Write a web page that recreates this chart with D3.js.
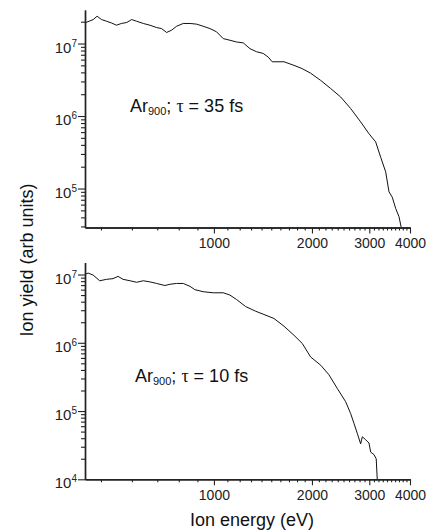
<!DOCTYPE html>
<html>
<head>
<meta charset="utf-8">
<script src="https://cdn.jsdelivr.net/npm/d3@7"></script>
<style>
    body { margin: 0; background: #fff; }
    svg { display: block; }
</style>
</head>
<body>
<svg class="ionYield"></svg>
<script>
// tau = 35 fs (top panel)
const energy_35fs = [401, 416, 426, 438, 452, 468, 485, 502, 520, 540, 559, 579, 607, 636, 667, 690, 716, 742, 768, 805,
    845, 885, 927, 972, 1019, 1068, 1120, 1174, 1231, 1290, 1352, 1417, 1468, 1510, 1641, 1761, 1867, 1981, 2127, 2282,
    2450, 2629, 2822, 2993, 3138, 3251, 3368, 3448, 3529, 3615, 3700, 3760];
const yield_35fs = [1.92e7, 2.05e7, 2.14e7, 2.38e7, 2.14e7, 2.03e7, 1.92e7, 1.79e7, 1.89e7, 1.95e7, 2.14e7, 2.03e7, 1.89e7, 1.79e7, 1.66e7, 1.61e7, 1.42e7, 1.53e7, 1.73e7, 1.89e7,
    1.89e7, 1.85e7, 1.73e7, 1.61e7, 1.45e7, 1.17e7, 1.11e7, 1.05e7, 1.02e7, 8.5e6, 7.7e6, 7.3e6, 6.5e6, 5.6e6, 5.6e6, 5.0e6, 4.5e6, 3.9e6, 3.1e6, 2.4e6,
    1.83e6, 1.27e6, 8.3e5, 5.7e5, 4.4e5, 2.7e5, 1.7e5, 9.0e4, 7.6e4, 5.3e4, 4.1e4, 2.9e4];

// tau = 10 fs (bottom panel)
const energy_10fs = [401, 411, 426, 446, 468, 490, 508, 526, 553, 579, 607, 636, 667, 707, 733, 768, 805, 845, 874, 927,
    995, 1068, 1120, 1174, 1251, 1343, 1424, 1529, 1641, 1761, 1867, 1981, 2127, 2255, 2391, 2538, 2629, 2692, 2756, 2822,
    2855, 2923, 2993, 3030, 3100, 3150, 3173];
const yield_10fs = [1.0e7, 1.05e7, 9.8e6, 8.1e6, 8.5e6, 8.7e6, 9.4e6, 8.5e6, 8.1e6, 7.7e6, 8.1e6, 7.8e6, 7.4e6, 6.9e6, 7.2e6, 7.4e6, 7.4e6, 6.7e6, 6.0e6, 5.6e6,
    5.4e6, 5.4e6, 5.0e6, 4.3e6, 3.4e6, 2.9e6, 2.6e6, 2.27e6, 1.75e6, 1.29e6, 9.8e5, 6.2e5, 4.7e5, 3.4e5, 2.15e5, 1.37e5, 9.2e4, 6.6e4, 4.7e4, 3.3e4,
    4.2e4, 3.8e4, 3.4e4, 2.5e4, 2.3e4, 2.0e4, 1.0e4];

const xMajorTicks = [1000, 2000, 3000, 4000];
const xMinorTicks = [450, 560, 670, 780, 890,
    1100, 1200, 1300, 1400, 1500, 1600, 1700, 1800, 1900,
    2100, 2200, 2300, 2400, 2500, 2600, 2700, 2800, 2900,
    3100, 3200, 3300, 3400, 3500, 3600, 3700, 3800, 3900];
const yDecades_35fs = [1e5, 1e6, 1e7];
const yDecades_10fs = [1e4, 1e5, 1e6, 1e7];

const FONT = "'Liberation Sans', Arial, sans-serif";

function drawPanel(svg, cfg){
    const x = d3.scaleLog()
        .domain([402, 4000])
        .range([85, 410]);

    const y = d3.scaleLog()
        .domain(cfg.yDomain)
        .range([cfg.bottom, cfg.top]);

    const g = svg.append("g");

    g.append("clipPath")
        .attr("id", cfg.id)
        .append("rect")
        .attr("x", 85)
        .attr("y", cfg.top)
        .attr("width", 330)
        .attr("height", cfg.bottom - cfg.top);

    // curve
    const pts = cfg.energy.map((e, i) => [e, cfg.values[i]]);
    g.append("path")
        .datum(pts)
        .attr("clip-path", `url(#${cfg.id})`)
        .attr("fill", "none")
        .attr("stroke", "#111")
        .attr("stroke-width", 1)
        .attr("d", d3.line().x(d => x(d[0])).y(d => y(d[1])));

    // X axis
    g.append("g")
        .attr("transform", `translate(0,${cfg.bottom})`)
        .call(d3.axisBottom(x).tickValues(xMinorTicks).tickSize(3).tickSizeOuter(0).tickFormat(""));

    g.append("g")
        .attr("transform", `translate(0,${cfg.bottom})`)
        .call(d3.axisBottom(x).tickValues(xMajorTicks).tickSize(6).tickSizeOuter(0).tickFormat(d3.format("d")))
        .call(a => a.selectAll(".tick text")
            .attr("y", 11)
            .style("font-size", "14px")
            .style("font-family", FONT)
            .style("fill", "#222"));

    // Y axis
    const minor = y.ticks().filter(v => Math.abs(Math.log10(v) - Math.round(Math.log10(v))) > 1e-6);
    g.append("g")
        .attr("transform", "translate(85,0)")
        .call(d3.axisLeft(y).tickValues(minor).tickSize(4).tickSizeOuter(0).tickFormat(""));

    g.append("g")
        .attr("transform", "translate(85,0)")
        .call(d3.axisLeft(y).tickValues(cfg.decades).tickSize(7).tickSizeOuter(0).tickFormat(""));

    const lab = g.selectAll(".ylab")
        .data(cfg.decades)
        .enter().append("text")
        .attr("class", "ylab")
        .attr("x", 77)
        .attr("y", d => y(d) + 9)
        .attr("text-anchor", "end")
        .style("font-family", FONT)
        .style("font-size", "15px")
        .style("fill", "#222");
    lab.append("tspan").text("10");
    lab.append("tspan")
        .attr("dy", -6)
        .style("font-size", "10px")
        .text(d => Math.round(Math.log10(d)));

    g.selectAll(".domain").attr("stroke", "#222").attr("stroke-width", 1.4);
    g.selectAll(".tick line").attr("stroke", "#222").attr("stroke-width", 1.1);

    // annotation
    const t = g.append("text")
        .attr("x", cfg.labelX)
        .attr("y", cfg.labelY)
        .style("font-family", FONT)
        .style("font-size", "18px")
        .style("fill", "#111");
    t.append("tspan").text("Ar");
    t.append("tspan").attr("dy", 3).style("font-size", "11px").text("900");
    t.append("tspan").attr("dy", -3).text("; ");
    t.append("tspan").style("font-family", "'Liberation Serif', 'DejaVu Serif', serif").text("\u03c4");
    t.append("tspan").text(" = " + cfg.tau + " fs");
}

function initializePlot_ion_yield(){
    const svg = d3.select(".ionYield")
        .attr("width", 429)
        .attr("height", 532)
        .style("background", "#fff");

    drawPanel(svg, {
        id: "clipTop", energy: energy_35fs, values: yield_35fs,
        yDomain: [2.9e4, 2.9e7], top: 10, bottom: 227.5,
        decades: yDecades_35fs, tau: "35", labelX: 130, labelY: 112
    });

    drawPanel(svg, {
        id: "clipBottom", energy: energy_10fs, values: yield_10fs,
        yDomain: [1e4, 1.5e7], top: 262.5, bottom: 479.3,
        decades: yDecades_10fs, tau: "10", labelX: 135, labelY: 382
    });

    svg.append("text")
        .attr("transform", "translate(33,260) rotate(-90)")
        .attr("text-anchor", "middle")
        .style("font-family", FONT)
        .style("font-size", "18px")
        .style("fill", "#111")
        .text("Ion yield (arb units)");

    svg.append("text")
        .attr("x", 252)
        .attr("y", 526)
        .attr("text-anchor", "middle")
        .style("font-family", FONT)
        .style("font-size", "18px")
        .style("fill", "#111")
        .text("Ion energy (eV)");
}

initializePlot_ion_yield();
</script>
</body>
</html>
